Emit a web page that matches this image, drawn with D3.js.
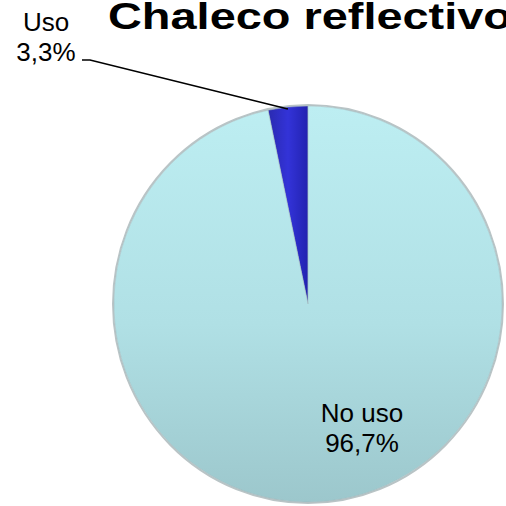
<!DOCTYPE html>
<html lang="es">
<head>
<meta charset="utf-8">
<title>Chaleco reflectivo</title>
<script src="https://d3js.org/d3.v7.min.js"></script>
<style>
  body { margin: 0; background: #fff; }
  svg { display: block; font-family: "Liberation Sans", Arial, sans-serif; }
</style>
</head>
<body>
<script>
// data
var categories = ["Uso", "No uso"];
var values = [3.3, 96.7];
var labels = ["3,3%", "96,7%"];

var width = 506, height = 506;
var cx = 308, cy = 304, r = 198;

var svg = d3.select("body").append("svg")
    .attr("width", width)
    .attr("height", height);

var defs = svg.append("defs");
var g1 = defs.append("linearGradient").attr("id", "gNo")
    .attr("x1", 0).attr("y1", 0).attr("x2", 0).attr("y2", 1);
g1.append("stop").attr("offset", "0%").attr("stop-color", "#bdeef2");
g1.append("stop").attr("offset", "55%").attr("stop-color", "#b0e0e5");
g1.append("stop").attr("offset", "100%").attr("stop-color", "#9cc7cc");
var g2 = defs.append("linearGradient").attr("id", "gUso")
    .attr("x1", 0).attr("y1", 0).attr("x2", 1).attr("y2", 0);
g2.append("stop").attr("offset", "0%").attr("stop-color", "#2a2ab0");
g2.append("stop").attr("offset", "50%").attr("stop-color", "#3333d8");
g2.append("stop").attr("offset", "100%").attr("stop-color", "#2222b0");

var fills = ["url(#gUso)", "url(#gNo)"];

var total = d3.sum(values);
var start = -values[0] / total * 2 * Math.PI;
var pie = d3.pie().sort(null).value(d => d)
    .startAngle(start).endAngle(start + 2 * Math.PI);
var arcs = pie(values);

var arc = d3.arc().innerRadius(0).outerRadius(r);

// pie slightly narrower than tall, like the reference
var chart = svg.append("g").attr("transform", "translate(" + cx + "," + cy + ") scale(0.98,1)");

chart.append("circle")
    .attr("r", r + 1)
    .attr("fill", "none")
    .attr("stroke", "#b9c4c6")
    .attr("stroke-width", 2);

chart.selectAll("path.slice")
    .data(arcs)
    .enter().append("path")
    .attr("class", "slice")
    .attr("d", arc)
    .attr("fill", (d, i) => fills[i])
    .attr("stroke", "#9fb6b9")
    .attr("stroke-width", 0.5);

// title (runs off the right edge, as in the reference)
svg.append("text")
    .attr("x", 108)
    .attr("y", 29)
    .attr("font-size", 37)
    .attr("font-weight", "bold")
    .attr("fill", "#000")
    .attr("textLength", 404)
    .attr("lengthAdjust", "spacingAndGlyphs")
    .text("Chaleco reflectivo");

// label for "Uso" (outside with leader line)
var uso = arcs[0];
var pt = d3.arc().innerRadius(r).outerRadius(r).centroid(uso);
svg.append("polyline")
    .attr("points", [[82, 60], [90, 60], [cx + pt[0] * 0.98, cy + pt[1] + 2]].map(p => p.join(",")).join(" "))
    .attr("fill", "none")
    .attr("stroke", "#000")
    .attr("stroke-width", 1.5);

var lUso = svg.append("text")
    .attr("text-anchor", "middle")
    .attr("font-size", 26)
    .attr("fill", "#000");
lUso.append("tspan").attr("x", 46).attr("y", 31).text(categories[0]);
lUso.append("tspan").attr("x", 46).attr("y", 61).text(labels[0]);

// label for "No uso" (inside)
var lx = cx + 54, ly = cy + 118;
var lNo = svg.append("text")
    .attr("text-anchor", "middle")
    .attr("font-size", 26)
    .attr("fill", "#000");
lNo.append("tspan").attr("x", lx).attr("y", ly).text(categories[1]);
lNo.append("tspan").attr("x", lx).attr("y", ly + 30).text(labels[1]);
</script>
</body>
</html>
